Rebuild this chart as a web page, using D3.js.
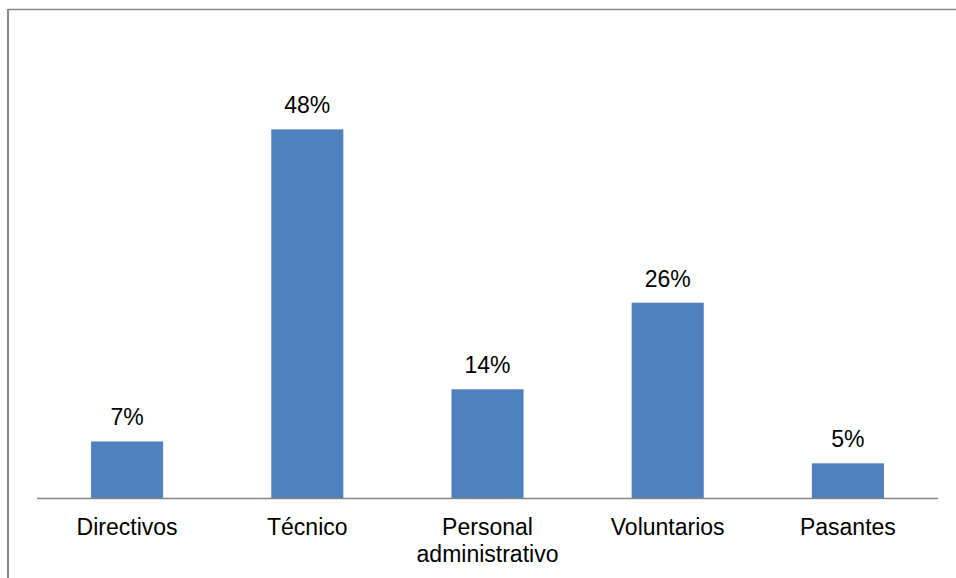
<!DOCTYPE html>
<html>
<head>
<meta charset="utf-8">
<script src="https://cdn.jsdelivr.net/npm/d3@7"></script>
<style>
body { margin: 0; background: #fff; }
text { font-family: "Liberation Sans", Arial, sans-serif; fill: #000; }
</style>
</head>
<body>
<svg width="956" height="578"></svg>
<script>
// datos
var categorias = ["Directivos", "Técnico", "Personal administrativo", "Voluntarios", "Pasantes"];
var valores = [0.0744, 0.4817, 0.1425, 0.2555, 0.0459];

var svg = d3.select("svg");

// marco (solo arriba e izquierda)
svg.append("line").attr("x1", 8).attr("y1", 9.5).attr("x2", 956).attr("y2", 9.5)
    .attr("stroke", "#868686").attr("stroke-width", 1.5);
svg.append("line").attr("x1", 8).attr("y1", 9).attr("x2", 8).attr("y2", 578)
    .attr("stroke", "#868686").attr("stroke-width", 2);

var x = d3.scaleBand().domain(categorias).range([37, 938])
    .paddingInner(0.6).paddingOuter(0.3);
var y = d3.scaleLinear().domain([0, 0.6]).range([498.5, 38.7]);

var fmt = d3.format(".0%");

svg.append("g").selectAll("rect").data(valores).enter().append("rect")
    .attr("x", function (d, i) { return x(categorias[i]); })
    .attr("y", function (d) { return y(d); })
    .attr("width", x.bandwidth())
    .attr("height", function (d) { return y(0) - y(d); })
    .attr("fill", "#4F81BD");

svg.append("g").selectAll("text").data(valores).enter().append("text")
    .attr("x", function (d, i) { return x(categorias[i]) + x.bandwidth() / 2; })
    .attr("y", function (d) { return y(d) - 16; })
    .attr("text-anchor", "middle")
    .style("font-size", "23px")
    .text(function (d) { return fmt(d); });

// eje x
svg.append("line").attr("x1", 37).attr("x2", 938).attr("y1", y(0)).attr("y2", y(0))
    .attr("stroke", "#868686").attr("stroke-width", 1.5);

var etiquetas = svg.append("g").selectAll("text").data(categorias).enter().append("text")
    .attr("text-anchor", "middle")
    .style("font-size", "23px")
    .attr("x", function (d) { return x(d) + x.bandwidth() / 2; })
    .attr("y", 535);

etiquetas.each(function (d) {
    var partes = d === "Personal administrativo" ? ["Personal", "administrativo"] : [d];
    var t = d3.select(this);
    partes.forEach(function (p, j) {
        t.append("tspan").attr("x", t.attr("x")).attr("dy", j === 0 ? 0 : 26.5).text(p);
    });
});
</script>
</body>
</html>
